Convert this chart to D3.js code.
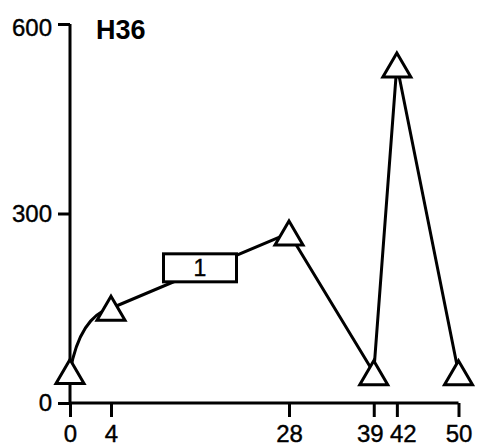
<!DOCTYPE html>
<html>
<head>
<meta charset="utf-8">
<script src="https://cdn.jsdelivr.net/npm/d3@7"></script>
<style>
  html, body { margin: 0; padding: 0; background: #fff; }
  svg { display: block; font-family: "Liberation Sans", Arial, Helvetica, sans-serif; }
</style>
</head>
<body>
<svg id="chart" width="478" height="447"></svg>
<script>
// Data
const days = [0, 4, 28, 39, 42, 50];
const values = [50, 150, 269, 48, 535, 48];
const xTicks = [0, 4, 28, 39, 42, 50];
const yTicks = [0, 300, 600];
const title = 'H36';
const boxLabel = '1';
const boxAt = [16, 214];   // where the label box sits on the line (day, value)

const svg = d3.select('#chart');

// the original x axis is not evenly spaced, so use a polylinear scale
const x = d3.scaleLinear()
    .domain([0, 4, 28, 50])
    .range([70, 111, 289, 458.5]);

const y = d3.scaleLinear()
    .domain([0, 600])
    .range([403, 24]);

const points = days.map((d, i) => [x(d), y(values[i])]);

// axes
const yAxis = svg.append('g')
    .attr('transform', 'translate(' + x(0) + ',0)')
    .call(d3.axisLeft(y).tickValues(yTicks).tickSize(12).tickSizeOuter(0).tickPadding(6));

const xAxis = svg.append('g')
    .attr('transform', 'translate(0,' + y(0) + ')')
    .call(d3.axisBottom(x).tickValues(xTicks).tickSize(14).tickSizeOuter(0).tickPadding(8));

[yAxis, xAxis].forEach(g => {
    g.selectAll('path, line').attr('stroke', '#000').attr('stroke-width', 3);
    g.selectAll('text')
        .attr('fill', '#000')
        .attr('font-size', 24)
        .attr('stroke', '#000')
        .attr('stroke-width', 0.4);
});
yAxis.select('.domain').attr('d', 'M0,' + y(600) + 'V' + y(0));
xAxis.select('.domain').attr('d', 'M' + x(0) + ',0H' + x(50));

// top label sits a little below its tick in the original
yAxis.selectAll('.tick text').filter(d => d === 600).attr('y', 4);
// 39 and 42 labels are pushed apart
xAxis.selectAll('.tick text').filter(d => d === 39).attr('x', -4);
xAxis.selectAll('.tick text').filter(d => d === 42).attr('x', 6);

// the line: first segment is drawn curved, the rest straight
const path = d3.path();
path.moveTo(points[0][0], points[0][1]);
path.quadraticCurveTo(
    points[0][0] + (points[1][0] - points[0][0]) * 0.25,
    points[1][1] + 8,
    points[1][0], points[1][1]);
const rest = d3.line().curve(d3.curveLinear)(points.slice(1));
svg.append('path')
    .attr('d', path.toString() + rest.replace(/^M/, 'L'))
    .attr('fill', 'none')
    .attr('stroke', '#000')
    .attr('stroke-width', 3)
    .attr('stroke-linejoin', 'round');

// label box sitting on the line
const bx = x(boxAt[0]), by = y(boxAt[1]);
const bw = 73, bh = 28;
svg.append('rect')
    .attr('x', bx - bw / 2)
    .attr('y', by - bh / 2)
    .attr('width', bw)
    .attr('height', bh)
    .attr('fill', '#fff')
    .attr('stroke', '#000')
    .attr('stroke-width', 3);
svg.append('text')
    .attr('x', bx)
    .attr('y', by + 8)
    .attr('text-anchor', 'middle')
    .attr('font-size', 23)
    .attr('stroke', '#000')
    .attr('stroke-width', 0.4)
    .text(boxLabel);

// triangle markers
const tri = 'M0,-12L14,12L-14,12Z';
svg.append('g').selectAll('path')
    .data(points)
    .enter().append('path')
    .attr('transform', d => 'translate(' + d[0] + ',' + d[1] + ')')
    .attr('d', tri)
    .attr('fill', '#fff')
    .attr('stroke', '#000')
    .attr('stroke-width', 3)
    .attr('stroke-linejoin', 'miter');

// title
svg.append('text')
    .attr('x', 96)
    .attr('y', 39)
    .attr('font-size', 27)
    .attr('font-weight', 'bold')
    .text(title);
</script>
</body>
</html>
